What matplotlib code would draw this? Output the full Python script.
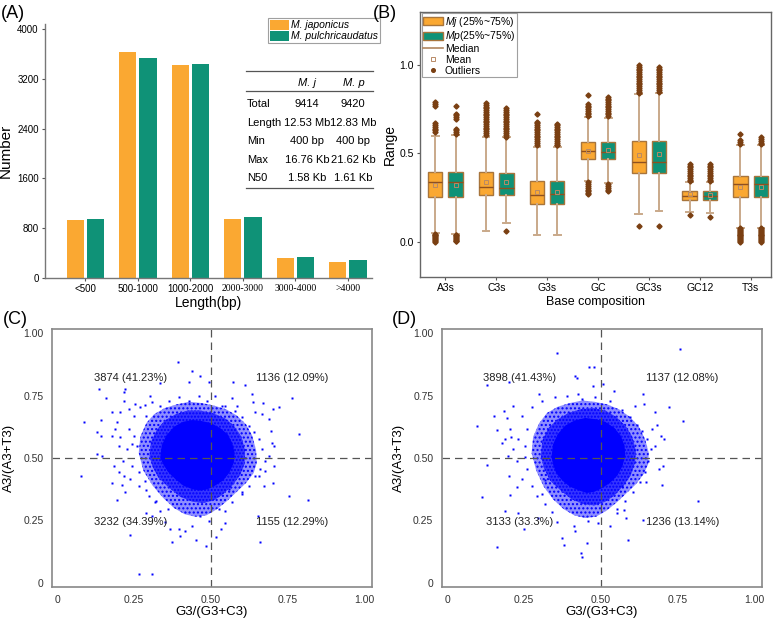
import numpy as np
import matplotlib.pyplot as plt
from matplotlib.patches import Patch
from matplotlib.lines import Line2D

plt.rcParams['font.family'] = ['Liberation Sans', 'DejaVu Sans']
plt.rcParams['mathtext.fontset'] = 'custom'
plt.rcParams['mathtext.it'] = 'Liberation Sans:italic'
plt.rcParams['mathtext.rm'] = 'Liberation Sans'

# ---- (A) length distribution
len_bins = ['<500', '500-1000', '1000-2000', '2000-3000', '3000-4000', '>4000']
mj_counts = [934, 3627, 3414, 955, 315, 256]
mp_counts = [940, 3531, 3440, 982, 336, 283]
tab_rows = ['Total', 'Length', 'Min', 'Max', 'N50']
tab_mj = ['9414', '12.53 Mb', '400 bp', '16.76 Kb', '1.58 Kb']
tab_mp = ['9420', '12.83 Mb', '400 bp', '21.62 Kb', '1.61 Kb']

# ---- (B) base composition boxes
comp = ['A3s', 'C3s', 'G3s', 'GC', 'GC3s', 'GC12', 'T3s']
mj_q1 = [0.255, 0.262, 0.212, 0.470, 0.389, 0.236, 0.255]
mj_med = [0.337, 0.309, 0.266, 0.511, 0.449, 0.259, 0.326]
mj_q3 = [0.393, 0.393, 0.341, 0.563, 0.567, 0.286, 0.374]
mj_mean = [0.322, 0.335, 0.281, 0.516, 0.492, 0.268, 0.309]
mj_wlo = [0.047, 0.063, 0.035, 0.342, 0.158, 0.167, 0.079]
mj_whi = [0.597, 0.595, 0.537, 0.705, 0.835, 0.335, 0.547]
mj_fliers = [
    [0.79, 0.78, 0.77, 0.67, 0.66, 0.65, 0.64, 0.63, 0.62,
     0.045, 0.04, 0.035, 0.03, 0.025, 0.02, 0.015, 0.01, 0.005, 0.0],
    [0.785, 0.775, 0.765, 0.755, 0.745, 0.735, 0.725, 0.715, 0.705, 0.695,
     0.685, 0.675, 0.665, 0.655, 0.645, 0.635, 0.625, 0.615, 0.605],
    [0.725, 0.68, 0.67, 0.66, 0.65, 0.64, 0.63, 0.62, 0.61, 0.60, 0.59,
     0.58, 0.57, 0.56, 0.55],
    [0.831, 0.78, 0.77, 0.76, 0.75, 0.74, 0.73, 0.72, 0.71,
     0.335, 0.325, 0.315, 0.305, 0.295, 0.285, 0.275, 0.268],
    [1.0, 0.99, 0.98, 0.97, 0.96, 0.95, 0.94, 0.93, 0.92, 0.91, 0.90, 0.89,
     0.88, 0.87, 0.86, 0.85, 0.84, 0.088],
    [0.44, 0.43, 0.42, 0.41, 0.40, 0.39, 0.38, 0.37, 0.36, 0.35, 0.345, 0.15],
    [0.612, 0.575, 0.565, 0.555,
     0.075, 0.07, 0.065, 0.06, 0.055, 0.05, 0.045, 0.04, 0.035, 0.03, 0.025,
     0.02, 0.015, 0.01, 0.005, 0.0],
]
mp_q1 = [0.255, 0.262, 0.212, 0.469, 0.389, 0.236, 0.255]
mp_med = [0.337, 0.303, 0.270, 0.509, 0.449, 0.258, 0.326]
mp_q3 = [0.393, 0.391, 0.341, 0.562, 0.571, 0.285, 0.374]
mp_mean = [0.322, 0.339, 0.281, 0.520, 0.494, 0.266, 0.309]
mp_wlo = [0.045, 0.107, 0.036, 0.333, 0.176, 0.165, 0.079]
mp_whi = [0.603, 0.590, 0.535, 0.698, 0.843, 0.335, 0.547]
mp_fliers = [
    [0.77, 0.725, 0.715, 0.705, 0.695, 0.64, 0.63, 0.62, 0.61,
     0.04, 0.035, 0.03, 0.025, 0.02, 0.015, 0.01, 0.005, 0.002],
    [0.755, 0.745, 0.735, 0.725, 0.715, 0.705, 0.695, 0.685, 0.675, 0.665,
     0.655, 0.645, 0.635, 0.625, 0.615, 0.605, 0.595, 0.063],
    [0.668, 0.66, 0.65, 0.64, 0.63, 0.62, 0.61, 0.60, 0.59, 0.58, 0.57,
     0.56, 0.55, 0.545],
    [0.818, 0.81, 0.80, 0.79, 0.78, 0.77, 0.76, 0.75, 0.74, 0.73, 0.72, 0.71,
     0.325, 0.315, 0.305, 0.295, 0.285],
    [0.99, 0.98, 0.97, 0.96, 0.95, 0.94, 0.93, 0.92, 0.91, 0.90, 0.89, 0.88,
     0.87, 0.86, 0.85, 0.088],
    [0.44, 0.43, 0.42, 0.41, 0.40, 0.39, 0.38, 0.37, 0.36, 0.35, 0.345, 0.14],
    [0.59, 0.58, 0.57, 0.56, 0.555,
     0.075, 0.07, 0.065, 0.06, 0.055, 0.05, 0.045, 0.04, 0.035, 0.03, 0.025,
     0.02, 0.015, 0.01, 0.005, 0.0],
]

# ---- (C)/(D) G3/(G3+C3) vs A3/(A3+T3)
# outlines of the solid core, the dense ring and the speckled ring, plus the
# sparse points around them, all read off the picture
c_core_x = [0.335, 0.34, 0.355, 0.38, 0.41, 0.44, 0.47, 0.50, 0.53, 0.555, 0.57, 0.578,
            0.575, 0.56, 0.54, 0.515, 0.49, 0.465, 0.44, 0.41, 0.385, 0.36, 0.345]
c_core_y = [0.50, 0.55, 0.59, 0.625, 0.645, 0.652, 0.648, 0.64, 0.62, 0.595, 0.56, 0.52,
            0.48, 0.44, 0.41, 0.39, 0.375, 0.37, 0.375, 0.39, 0.415, 0.445, 0.475]
c_inner_x = [0.30, 0.305, 0.325, 0.35, 0.385, 0.425, 0.465, 0.505, 0.545, 0.575, 0.60, 0.612,
             0.61, 0.595, 0.57, 0.54, 0.51, 0.475, 0.44, 0.40, 0.365, 0.33, 0.31]
c_inner_y = [0.51, 0.565, 0.615, 0.65, 0.675, 0.69, 0.69, 0.68, 0.66, 0.63, 0.585, 0.53,
             0.475, 0.43, 0.39, 0.355, 0.33, 0.32, 0.325, 0.345, 0.38, 0.42, 0.465]
c_mid_x = [0.265, 0.27, 0.29, 0.315, 0.35, 0.39, 0.43, 0.47, 0.51, 0.55, 0.585, 0.615, 0.635,
           0.648, 0.65, 0.64, 0.615, 0.585, 0.555, 0.52, 0.485, 0.45, 0.415, 0.38, 0.345, 0.31, 0.28]
c_mid_y = [0.52, 0.585, 0.64, 0.675, 0.70, 0.715, 0.725, 0.72, 0.71, 0.695, 0.67, 0.635, 0.59,
           0.53, 0.48, 0.44, 0.40, 0.365, 0.33, 0.295, 0.27, 0.265, 0.275, 0.30, 0.34, 0.39, 0.45]
c_pts_x = [0.393, 0.439, 0.428, 0.465, 0.495, 0.134, 0.221, 0.216, 0.159, 0.303,
           0.333, 0.216, 0.254, 0.085, 0.143, 0.178, 0.129, 0.143, 0.189, 0.205,
           0.129, 0.145, 0.078, 0.178, 0.211, 0.202, 0.221, 0.194, 0.290, 0.290,
           0.308, 0.236, 0.265, 0.308, 0.395, 0.417, 0.398, 0.373, 0.452, 0.484,
           0.321, 0.287, 0.333,
           0.572, 0.613, 0.634, 0.569, 0.765, 0.669, 0.722, 0.704, 0.637, 0.789,
           0.691, 0.667, 0.695, 0.700, 0.705, 0.705, 0.702, 0.754, 0.817, 0.654,
           0.659, 0.548, 0.534, 0.517, 0.526, 0.601, 0.656, 0.678, 0.548, 0.515,
           0.232, 0.248, 0.270, 0.289, 0.234, 0.248, 0.243, 0.227, 0.259, 0.214,
           0.243, 0.265, 0.238, 0.267, 0.287, 0.298, 0.319, 0.335, 0.362, 0.351,
           0.368, 0.439, 0.466, 0.493, 0.308, 0.363, 0.395, 0.428, 0.460, 0.488,
           0.194, 0.205, 0.178, 0.200, 0.183, 0.216,
           0.537, 0.580, 0.602, 0.624, 0.640, 0.656, 0.667, 0.678, 0.662, 0.645,
           0.624, 0.602, 0.569, 0.548, 0.586, 0.645, 0.689, 0.673, 0.559]
c_pts_y = [0.883, 0.847, 0.803, 0.829, 0.806, 0.775, 0.776, 0.763, 0.739, 0.747,
           0.799, 0.728, 0.717, 0.643, 0.653, 0.685, 0.603, 0.590, 0.616, 0.583,
           0.516, 0.508, 0.429, 0.400, 0.392, 0.445, 0.365, 0.330, 0.370, 0.278,
           0.269, 0.192, 0.037, 0.037, 0.216, 0.208, 0.187, 0.163, 0.170, 0.149,
           0.328, 0.712, 0.707,
           0.805, 0.794, 0.755, 0.741, 0.740, 0.720, 0.704, 0.696, 0.725, 0.597,
           0.656, 0.675, 0.608, 0.560, 0.549, 0.469, 0.400, 0.349, 0.332, 0.267,
           0.165, 0.239, 0.216, 0.185, 0.296, 0.362, 0.429, 0.449, 0.709, 0.749,
           0.696, 0.669, 0.703, 0.667, 0.616, 0.589, 0.556, 0.536, 0.549, 0.489,
           0.469, 0.443, 0.416, 0.389, 0.409, 0.349, 0.323, 0.289, 0.296, 0.243,
           0.216, 0.229, 0.269, 0.249, 0.723, 0.729, 0.743, 0.729, 0.749, 0.729,
           0.643, 0.683, 0.589, 0.549, 0.469, 0.429,
           0.709, 0.689, 0.663, 0.629, 0.603, 0.576, 0.536, 0.489, 0.456, 0.429,
           0.389, 0.356, 0.323, 0.289, 0.709, 0.683, 0.509, 0.389, 0.376]
c_quads = ['3874 (41.23%)', '1136 (12.09%)', '3232 (34.39%)', '1155 (12.29%)']

d_core_x = [0.34, 0.345, 0.36, 0.385, 0.415, 0.45, 0.485, 0.515, 0.545, 0.565, 0.578, 0.58,
            0.572, 0.555, 0.53, 0.505, 0.48, 0.455, 0.43, 0.40, 0.375, 0.355, 0.345]
d_core_y = [0.505, 0.555, 0.595, 0.63, 0.65, 0.66, 0.655, 0.645, 0.62, 0.59, 0.55, 0.51,
            0.47, 0.43, 0.40, 0.38, 0.365, 0.36, 0.37, 0.385, 0.41, 0.44, 0.475]
d_inner_x = [0.305, 0.31, 0.33, 0.36, 0.395, 0.435, 0.475, 0.515, 0.55, 0.58, 0.603, 0.615,
             0.612, 0.598, 0.575, 0.545, 0.515, 0.48, 0.445, 0.405, 0.37, 0.335, 0.315]
d_inner_y = [0.51, 0.57, 0.62, 0.655, 0.68, 0.695, 0.70, 0.69, 0.665, 0.63, 0.585, 0.53,
             0.48, 0.43, 0.39, 0.35, 0.325, 0.31, 0.315, 0.335, 0.37, 0.41, 0.46]
d_mid_x = [0.275, 0.28, 0.30, 0.325, 0.36, 0.40, 0.44, 0.48, 0.52, 0.56, 0.595, 0.625, 0.645,
           0.657, 0.655, 0.64, 0.615, 0.585, 0.555, 0.52, 0.485, 0.45, 0.415, 0.38, 0.345, 0.315, 0.29]
d_mid_y = [0.52, 0.585, 0.64, 0.68, 0.705, 0.72, 0.73, 0.725, 0.715, 0.695, 0.665, 0.625, 0.575,
           0.52, 0.475, 0.435, 0.395, 0.36, 0.325, 0.29, 0.265, 0.26, 0.27, 0.295, 0.335, 0.385, 0.45]
d_pts_x = [0.357, 0.417, 0.422, 0.463, 0.479, 0.129, 0.200, 0.426, 0.476, 0.298,
           0.216, 0.186, 0.153, 0.194, 0.096, 0.162, 0.178, 0.208, 0.197, 0.129,
           0.254, 0.113, 0.189, 0.232, 0.205, 0.249, 0.161, 0.297, 0.373, 0.382,
           0.417, 0.456, 0.437, 0.440, 0.493, 0.320, 0.308,
           0.760, 0.509, 0.542, 0.637, 0.722, 0.678, 0.767, 0.642, 0.613, 0.667,
           0.684, 0.705, 0.698, 0.702, 0.700, 0.649, 0.817, 0.637, 0.583, 0.589,
           0.531, 0.575, 0.553,
           0.243, 0.276, 0.259, 0.232, 0.254, 0.227, 0.259, 0.243, 0.276, 0.292,
           0.319, 0.341, 0.357, 0.412, 0.460, 0.308, 0.352, 0.390, 0.439, 0.482,
           0.205, 0.189, 0.216, 0.200, 0.227,
           0.531, 0.569, 0.596, 0.618, 0.634, 0.651, 0.665, 0.656, 0.645, 0.629,
           0.607, 0.580, 0.553, 0.678, 0.689, 0.569]
d_pts_y = [0.920, 0.829, 0.820, 0.864, 0.863, 0.792, 0.803, 0.757, 0.787, 0.756,
           0.709, 0.689, 0.667, 0.659, 0.629, 0.613, 0.560, 0.583, 0.509, 0.472,
           0.503, 0.343, 0.289, 0.280, 0.352, 0.216, 0.143, 0.260, 0.180, 0.153,
           0.207, 0.160, 0.120, 0.105, 0.240, 0.410, 0.357,
           0.936, 0.796, 0.770, 0.756, 0.704, 0.685, 0.647, 0.716, 0.709, 0.616,
           0.632, 0.576, 0.587, 0.469, 0.392, 0.403, 0.329, 0.252, 0.259, 0.173,
           0.227, 0.291, 0.281,
           0.669, 0.703, 0.616, 0.576, 0.549, 0.489, 0.456, 0.416, 0.389, 0.349,
           0.316, 0.283, 0.243, 0.229, 0.249, 0.729, 0.743, 0.749, 0.736, 0.743,
           0.616, 0.576, 0.536, 0.429, 0.383,
           0.729, 0.693, 0.666, 0.633, 0.607, 0.576, 0.536, 0.489, 0.443, 0.403,
           0.363, 0.329, 0.296, 0.549, 0.456, 0.389]
d_quads = ['3898 (41.43%)', '1137 (12.08%)', '3133 (33.3%)', '1236 (13.14%)']

orange = '#FAA832'
green = '#0F9277'
W, H = 778, 620


def fx(px):
    return px / W


def fy(py):
    return 1 - py / H


fig = plt.figure(figsize=(7.78, 6.2), dpi=100)

# ================= (A)
axA = fig.add_axes([fx(45), fy(278), fx(372) - fx(45), fy(24) - fy(278)])
xi = np.arange(len(len_bins))
axA.bar(xi - 0.192, mj_counts, 0.33, color=orange, label='M. japonicus')
axA.bar(xi + 0.192, mp_counts, 0.33, color=green, label='M. pulchricaudatus')
axA.set_xlim(-0.77, 5.46)
axA.set_ylim(0, 4080)
axA.set_yticks([0, 800, 1600, 2400, 3200, 4000])
axA.set_xticks(xi)
axA.set_xticklabels(len_bins)
for k, t in enumerate(axA.get_xticklabels()):
    if k >= 3:
        t.set_family(['Liberation Serif', 'DejaVu Serif'])
axA.tick_params(labelsize=7, length=2.5, width=0.8, color='#555', pad=2)
for s in ['top', 'right']:
    axA.spines[s].set_visible(False)
for s in ['left', 'bottom']:
    axA.spines[s].set_color('#777')
    axA.spines[s].set_linewidth(1.0)
axA.set_ylabel('Number', fontsize=11, labelpad=3)
axA.set_xlabel('Length(bp)', fontsize=10, labelpad=1)
legA = axA.legend(loc='upper left', bbox_to_anchor=(fx(268), fy(18)), bbox_transform=fig.transFigure,
                  prop={'style': 'italic', 'size': 7.5}, frameon=True, fancybox=False,
                  edgecolor='#888', borderpad=0.15, handlelength=1.9, handleheight=1.1,
                  handletextpad=0.2, labelspacing=0.05, borderaxespad=0)
legA.get_frame().set_linewidth(0.8)

# table
for ly in [71, 91, 188]:
    fig.add_artist(Line2D([fx(246), fx(373)], [fy(ly), fy(ly)], color='#555', lw=0.9))
fig.text(fx(307), fy(83), 'M. j', style='italic', fontsize=8, ha='center', va='center')
fig.text(fx(354), fy(83), 'M. p', style='italic', fontsize=8, ha='center', va='center')
row_y = [104, 123, 141, 160, 178]
for k in range(len(tab_rows)):
    fig.text(fx(247), fy(row_y[k]), tab_rows[k], fontsize=8, ha='left', va='center')
    fig.text(fx(307), fy(row_y[k]), tab_mj[k], fontsize=8, ha='center', va='center')
    fig.text(fx(353), fy(row_y[k]), tab_mp[k], fontsize=8, ha='center', va='center')

# ================= (B)
axB = fig.add_axes([fx(420), fy(277), fx(771) - fx(420), fy(12) - fy(277)])
pos = np.arange(1, len(comp) + 1)


def make_stats(q1, med, q3, mean, wlo, whi, fl):
    return [dict(q1=q1[k], med=med[k], q3=q3[k], mean=mean[k], whislo=wlo[k],
                 whishi=whi[k], fliers=fl[k], label=comp[k]) for k in range(len(comp))]


edge = '#A8753C'
med_c = '#8E5020'
wh_c = '#C9A98A'
fl_c = '#7A3F12'
for stats, off, col in [(make_stats(mj_q1, mj_med, mj_q3, mj_mean, mj_wlo, mj_whi, mj_fliers), -0.2, orange),
                        (make_stats(mp_q1, mp_med, mp_q3, mp_mean, mp_wlo, mp_whi, mp_fliers), 0.2, green)]:
    axB.bxp(stats, positions=pos + off, widths=0.28, patch_artist=True, showmeans=True,
            capwidths=0.13, manage_ticks=False,
            boxprops=dict(facecolor=col, edgecolor=edge, linewidth=1.0),
            medianprops=dict(color=med_c, linewidth=1.0),
            whiskerprops=dict(color=wh_c, linewidth=1.4),
            capprops=dict(color=wh_c, linewidth=1.4),
            meanprops=dict(marker='s', markersize=3, markerfacecolor='none',
                           markeredgecolor='#B88A66', markeredgewidth=0.7),
            flierprops=dict(marker='D', markersize=2.6, markerfacecolor=fl_c,
                            markeredgecolor=fl_c))
axB.set_xlim(0.5, 7.4)
axB.set_ylim(-0.2, 1.3)
axB.set_xticks(pos)
axB.set_xticklabels(comp)
axB.set_yticks([0.0, 0.5, 1.0])
axB.tick_params(labelsize=7.5, length=2.5, width=0.8, color='#555', pad=2)
for s in axB.spines.values():
    s.set_color('#666')
    s.set_linewidth(1.0)
axB.set_ylabel('Range', fontsize=10, labelpad=2)
axB.set_xlabel('Base composition', fontsize=9, labelpad=2)
hB = [Patch(facecolor=orange, edgecolor=edge, label=r'$\mathit{Mj}$ (25%~75%)'),
      Patch(facecolor=green, edgecolor=edge, label=r'$\mathit{Mp}$(25%~75%)'),
      Line2D([], [], color='#B08660', lw=1.2, label='Median'),
      Line2D([], [], marker='s', ls='none', markersize=3, markerfacecolor='none',
             markeredgecolor='#B88A66', markeredgewidth=0.7, label='Mean'),
      Line2D([], [], marker='o', ls='none', markersize=2.6, color=fl_c, label='Outliers')]
legB = axB.legend(handles=hB, loc='upper left', bbox_to_anchor=(fx(421.5), fy(13)),
                  bbox_transform=fig.transFigure, fontsize=7.5, frameon=True, fancybox=False,
                  edgecolor='#888', borderpad=0.15, handlelength=1.9, handleheight=0.8,
                  handletextpad=0.2, labelspacing=0.08, borderaxespad=0)
legB.get_frame().set_linewidth(0.8)


# ================= (C) / (D)
def quad_panel(ax, core_x, core_y, inner_x, inner_y, mid_x, mid_y, px, py, quads):
    ax.fill(mid_x, mid_y, facecolor='#8e8eff', edgecolor='blue', hatch='....', linewidth=0)
    ax.fill(inner_x, inner_y, facecolor='#3434ff', edgecolor='blue', hatch='.....', linewidth=0)
    ax.fill(core_x, core_y, facecolor='blue', edgecolor='none', linewidth=0)
    ax.plot(px, py, 's', ms=1.5, color='blue', mec='none')
    ax.axhline(0.5, color='#555', lw=0.9, ls=(0, (6, 4)))
    ax.axvline(0.5, color='#555', lw=0.9, ls=(0, (6, 4)))
    ax.set_xlim(-0.018, 1.026)
    ax.set_ylim(-0.015, 1.015)
    tk = [0, 0.25, 0.5, 0.75, 1.0]
    tl = ['0', '0.25', '0.50', '0.75', '1.00']
    ax.set_xticks(tk)
    ax.set_xticklabels(tl)
    ax.set_yticks(tk)
    ax.set_yticklabels(tl)
    ax.tick_params(labelsize=7.5, length=0, pad=6, labelcolor='#333')
    for s in ax.spines.values():
        s.set_color('#888')
        s.set_linewidth(1.2)
    ax.set_xlabel('G3/(G3+C3)', fontsize=9.5, labelpad=1)
    ax.set_ylabel('A3/(A3+T3)', fontsize=9.5, labelpad=6)
    qpos = [(0.237, 0.82), (0.767, 0.82), (0.237, 0.243), (0.766, 0.243)]
    for (qx, qy), s in zip(qpos, quads):
        ax.text(qx, qy, s, fontsize=8, ha='center', va='center', color='#222')


axC = fig.add_axes([fx(52), fy(586.7), fx(372) - fx(52), fy(329.3) - fy(586.7)])
quad_panel(axC, c_core_x, c_core_y, c_inner_x, c_inner_y, c_mid_x, c_mid_y, c_pts_x, c_pts_y, c_quads)
axD = fig.add_axes([fx(441.7), fy(586.7), fx(762) - fx(441.7), fy(329.3) - fy(586.7)])
quad_panel(axD, d_core_x, d_core_y, d_inner_x, d_inner_y, d_mid_x, d_mid_y, d_pts_x, d_pts_y, d_quads)

# panel letters
for lx, ly, s in [(1, 13, '(A)'), (373, 13, '(B)'), (3, 320, '(C)'), (392, 320, '(D)')]:
    fig.text(fx(lx), fy(ly), s, fontsize=13, ha='left', va='center')

fig.savefig('out.png', dpi=100)
